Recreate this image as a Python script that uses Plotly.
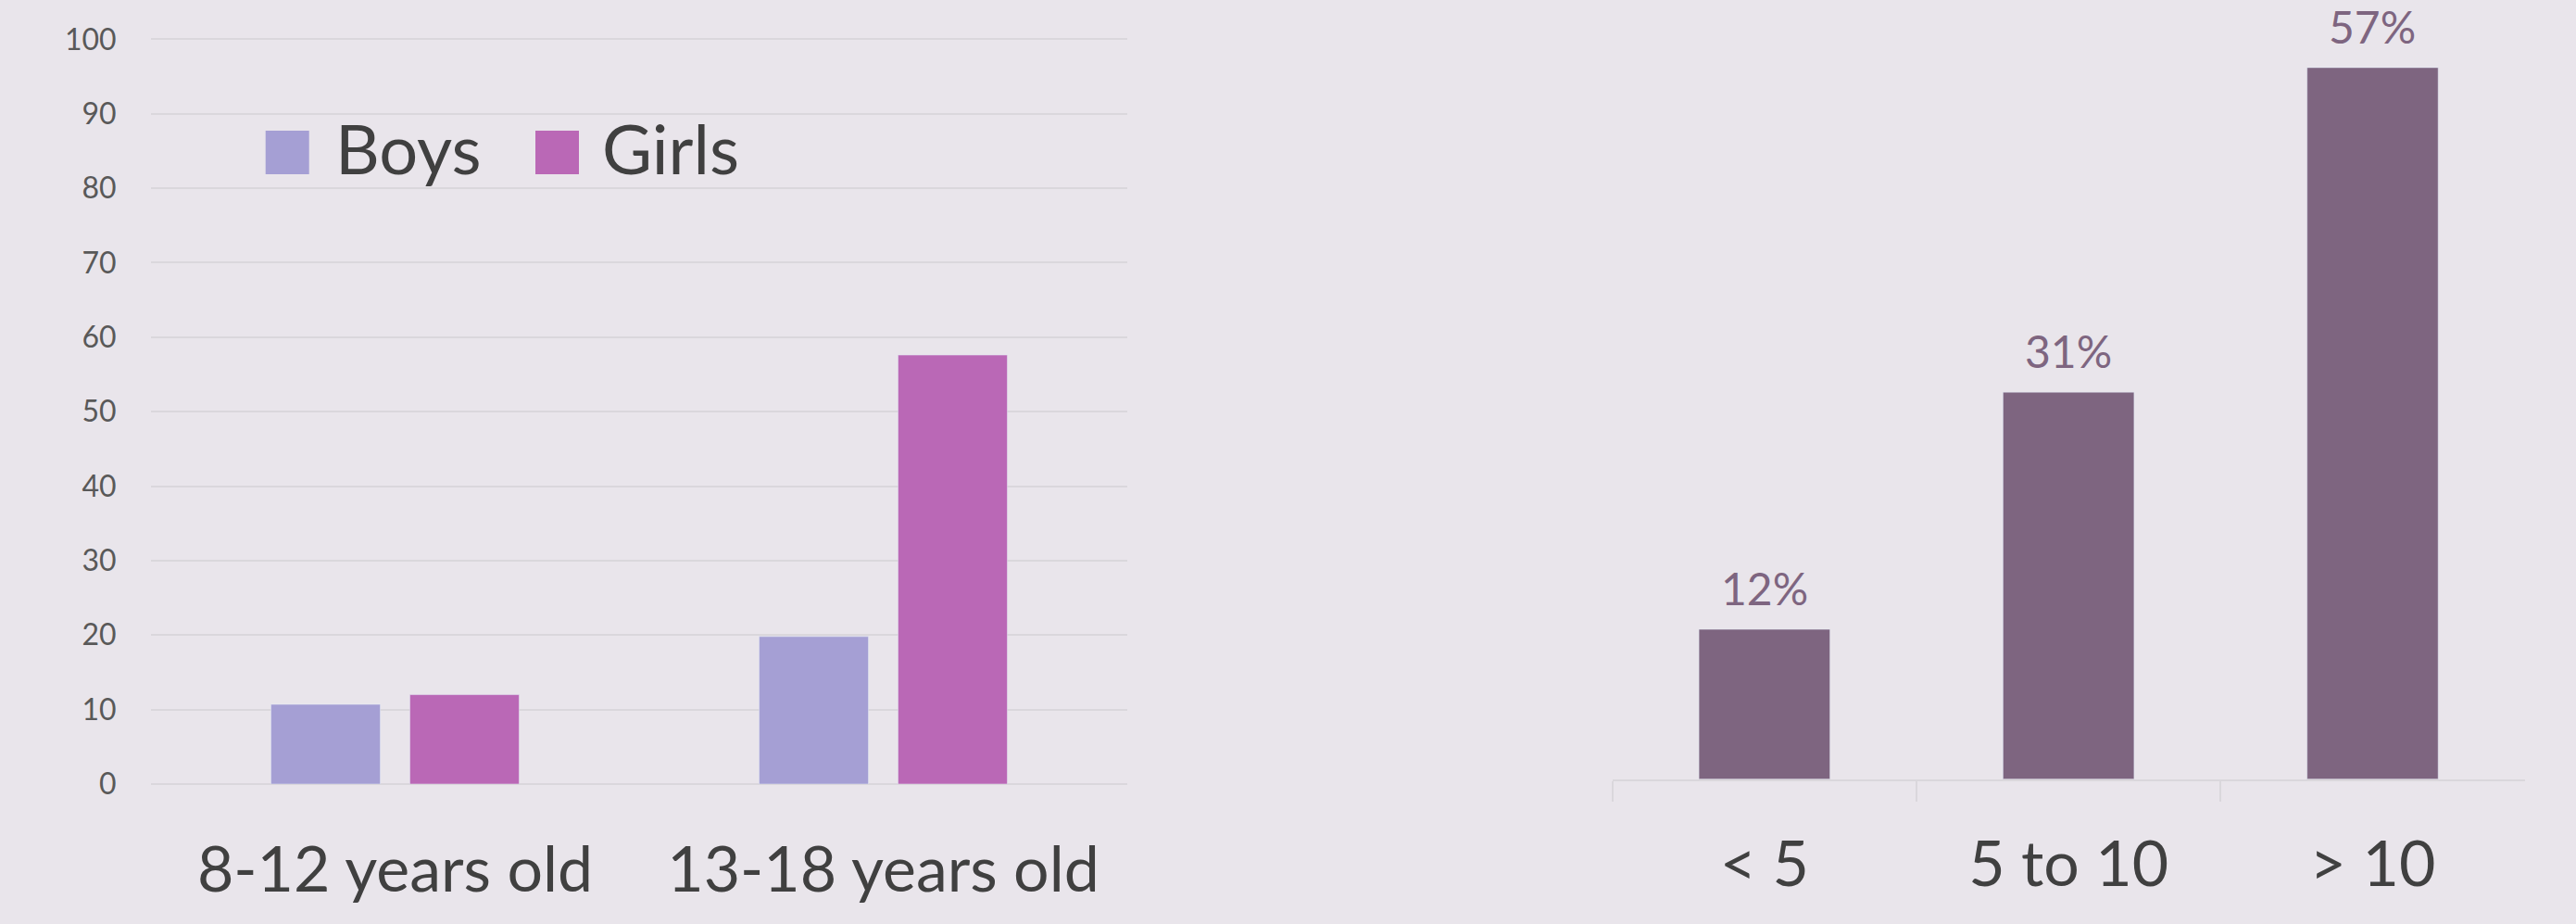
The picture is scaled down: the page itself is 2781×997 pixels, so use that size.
import plotly.graph_objects as go

# Left panel: share by age group and gender
age_groups = ["8-12 years old", "13-18 years old"]
boys = [10.7, 19.8]
girls = [12.0, 57.6]
y_ticks = [0, 10, 20, 30, 40, 50, 60, 70, 80, 90, 100]

# Right panel: share by hours band
hour_bands = ["< 5", "5 to 10", "> 10"]
hour_pct = [12, 31, 57]

W, H = 2781, 997
BG = "#E9E5EB"
BOYS_C = "#A59FD4"
GIRLS_C = "#BA68B6"
RIGHT_C = "#7E6580"
GRID_C = "#DAD7DC"
TEXT_C = "#404040"
TICK_C = "#595959"
FONT = "Lato"


def px_x(x):
    return x / W


def px_y(y):
    return 1 - y / H


fig = go.Figure()

fig.add_trace(go.Bar(x=age_groups, y=boys, name="Boys", marker_color=BOYS_C,
                     xaxis="x", yaxis="y", showlegend=False))
fig.add_trace(go.Bar(x=age_groups, y=girls, name="Girls", marker_color=GIRLS_C,
                     xaxis="x", yaxis="y", showlegend=False))
fig.add_trace(go.Bar(x=hour_bands, y=hour_pct, marker_color=RIGHT_C,
                     xaxis="x2", yaxis="y2", showlegend=False, width=0.431))

annotations = []
for band, v in zip(hour_bands, hour_pct):
    annotations.append(dict(x=band, y=v, xref="x2", yref="y2", text=f"{v}%",
                            showarrow=False, yanchor="bottom", yshift=14,
                            font=dict(family=FONT, size=48, color=RIGHT_C)))

# Legend drawn as swatches + labels
legend_items = [("Boys", BOYS_C, 286.7, 360), ("Girls", GIRLS_C, 578, 648)]
shapes = []
for label, color, sx, tx in legend_items:
    shapes.append(dict(type="rect", xref="paper", yref="paper",
                       x0=px_x(sx), x1=px_x(sx + 47), y0=px_y(188), y1=px_y(141),
                       fillcolor=color, line=dict(width=0)))
    annotations.append(dict(x=px_x(tx), y=px_y(160), xref="paper", yref="paper",
                            text=label, showarrow=False, xanchor="left", yanchor="middle",
                            font=dict(family=FONT, size=74, color=TEXT_C)))

fig.update_layout(
    width=W, height=H,
    margin=dict(l=0, r=0, t=0, b=0, autoexpand=False),
    paper_bgcolor=BG, plot_bgcolor=BG,
    barmode="group", bargap=0.431, bargroupgap=0.213,
    font=dict(family=FONT, color=TEXT_C),
    shapes=shapes, annotations=annotations,
    xaxis=dict(domain=[px_x(163), px_x(1217)], showgrid=False, showline=False,
               automargin=False,
               ticks="outside", ticklen=33, tickcolor="rgba(0,0,0,0)",
               tickfont=dict(family=FONT, size=68, color=TEXT_C), anchor="y"),
    yaxis=dict(domain=[px_y(846), px_y(846 - 101 * 8.037)], range=[0, 101],
               automargin=False,
               tickvals=y_ticks, showgrid=True, gridcolor=GRID_C, gridwidth=2,
               zeroline=True, zerolinecolor=GRID_C, zerolinewidth=2, showline=False,
               ticks="outside", ticklen=30, tickcolor="rgba(0,0,0,0)",
               tickfont=dict(family=FONT, size=32, color=TICK_C), anchor="x"),
    xaxis2=dict(domain=[px_x(1740.7), px_x(2725.6)], showgrid=False,
                automargin=False,
                showline=True, linecolor=GRID_C, linewidth=2,
                ticks="outside", tickson="boundaries", ticklen=22, tickwidth=2,
                tickcolor=GRID_C, ticklabelstandoff=32,
                tickfont=dict(family=FONT, size=68, color=TEXT_C), anchor="y2"),
    yaxis2=dict(domain=[px_y(840.7), px_y(840.7 - 60 * 13.47)], range=[0, 60],
                automargin=False,
                visible=False, showgrid=False, zeroline=False, anchor="x2"),
)

fig.write_html("out.html")
